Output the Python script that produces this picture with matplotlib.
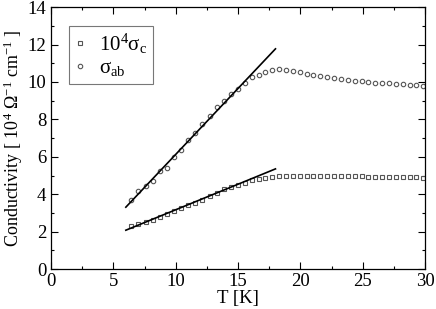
import matplotlib
matplotlib.use("Agg")
import matplotlib.pyplot as plt
import numpy as np
from matplotlib.ticker import MultipleLocator

plt.rcParams['font.family'] = ['Liberation Serif', 'DejaVu Serif']
plt.rcParams['mathtext.fontset'] = 'custom'
plt.rcParams['mathtext.rm'] = 'Liberation Serif'
plt.rcParams['mathtext.it'] = 'Liberation Serif:italic'

T = [6.42, 7.0, 7.58, 8.15, 8.73, 9.3, 9.87, 10.44, 11.0, 11.58, 12.14, 12.71,
     13.28, 13.84, 14.41, 14.97, 15.54, 16.1, 16.65, 17.2, 17.75, 18.3, 18.85,
     19.4, 19.95, 20.5, 21.05, 21.6, 22.15, 22.7, 23.25, 23.8, 24.35, 24.9,
     25.45, 26.0, 26.55, 27.1, 27.65, 28.2, 28.75, 29.3, 29.85]

sigma_ab = [3.67, 4.15, 4.42, 4.72, 5.22, 5.40, 5.99, 6.38, 6.91, 7.30, 7.77, 8.19,
            8.66, 8.96, 9.35, 9.64, 9.92, 10.24, 10.38, 10.55, 10.64, 10.67, 10.64,
            10.58, 10.53, 10.45, 10.37, 10.31, 10.25, 10.20, 10.15, 10.11, 10.07,
            10.03, 10.00, 9.97, 9.94, 9.92, 9.89, 9.87, 9.85, 9.83, 9.80]

sigma_c = [2.28, 2.40, 2.51, 2.62, 2.81, 2.96, 3.13, 3.26, 3.42, 3.53, 3.70, 3.92,
           4.09, 4.28, 4.41, 4.51, 4.61, 4.74, 4.83, 4.88, 4.92, 4.95, 4.99, 4.99,
           5.00, 5.00, 4.99, 4.99, 4.98, 4.98, 4.97, 4.96, 4.96, 4.95, 4.94, 4.94,
           4.93, 4.92, 4.92, 4.91, 4.90, 4.90, 4.89]

# linear fits: (T_start, T_end), (value at T_start, slope)
fit_range = [6.0, 18.0]
fit_ab = (3.31, 0.705)
fit_c = (2.08, 0.273)

fig = plt.figure(figsize=(4.36, 3.09), dpi=100)
ax = fig.add_axes([0.117, 0.129, 0.858, 0.848])

ax.plot(T, sigma_c, linestyle='none', marker='s', markersize=3.0,
        markerfacecolor='none', markeredgecolor='#555555', markeredgewidth=0.8,
        label='10$^4$σ$_{\\rm c}$')
ax.plot(T, sigma_ab, linestyle='none', marker='o', markersize=3.2,
        markerfacecolor='none', markeredgecolor='#555555', markeredgewidth=0.8,
        label='σ$_{\\rm ab}$')

fr = np.array(fit_range)
for a, b in (fit_ab, fit_c):
    ax.plot(fr, a + b * (fr - fr[0]), color='black', linewidth=1.2)

ax.set_xlim(0, 30)
ax.set_ylim(0, 14)
ax.xaxis.set_major_locator(MultipleLocator(5))
ax.xaxis.set_minor_locator(MultipleLocator(2.5))
ax.yaxis.set_major_locator(MultipleLocator(2))
ax.yaxis.set_minor_locator(MultipleLocator(1))
ax.tick_params(which='both', direction='in', top=True, right=True, labelsize=13.5,
               width=0.8)
ax.tick_params(which='major', length=5)
ax.tick_params(which='minor', length=2.5)
ax.tick_params(axis='x', pad=3)
for s in ax.spines.values():
    s.set_linewidth(0.9)

ax.set_xlabel('T [K]', fontsize=13.5, labelpad=0)
ax.set_ylabel(r'Conductivity [ 10$^4$ $\Omega^{-1}$ cm$^{-1}$ ]', fontsize=13,
              labelpad=2)

leg = ax.legend(loc='upper left', bbox_to_anchor=(0.048, 0.927), fontsize=15,
                frameon=True, fancybox=False, edgecolor='#555555',
                handlelength=0.6, handletextpad=0.6, borderpad=0.25,
                labelspacing=0.15, borderaxespad=0)
leg.get_frame().set_linewidth(0.8)

fig.savefig('out.png', dpi=100)
